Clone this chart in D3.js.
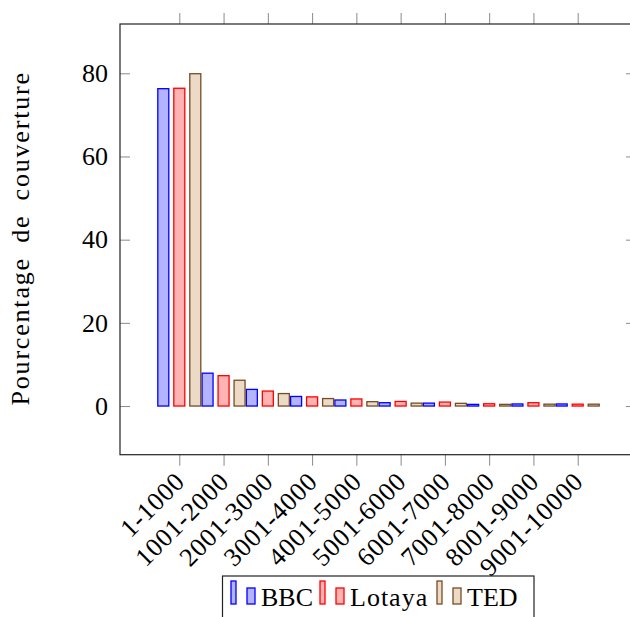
<!DOCTYPE html>
<html>
<head>
<meta charset="utf-8">
<script src="https://cdn.jsdelivr.net/npm/d3@7"></script>
<style>
  html, body { margin: 0; padding: 0; background: #fff; }
  svg { display: block; }
  text { font-family: "Liberation Serif", "DejaVu Serif", serif; fill: #000; }
</style>
</head>
<body>
<svg id="chart" width="630" height="617"></svg>
<script>
const categories = ["1-1000","1001-2000","2001-3000","3001-4000","4001-5000","5001-6000","6001-7000","7001-8000","8001-9000","9001-10000"];
const seriesNames = ["BBC","Lotaya","TED"];
const bbc    = [76.3, 7.9, 4.0, 2.3, 1.45, 0.8, 0.7, 0.4, 0.5, 0.5];
const lotaya = [76.4, 7.3, 3.6, 2.2, 1.7, 1.1, 0.95, 0.55, 0.8, 0.45];
const ted    = [79.9, 6.2, 3.0, 1.8, 1.05, 0.7, 0.65, 0.4, 0.45, 0.45];
const yTicks = [0, 20, 40, 60, 80];
const yLabel = "Pourcentage de couverture";

const seriesValues = [bbc, lotaya, ted];
const strokes = ["#0000ff", "#ff0000", "#734d26"];
const fills   = ["#b3b3ff", "#ffb3b3", "#ecd9c6"];

const svg = d3.select("#chart");
const L = 120, R = 636, T = 24, B = 454.7;

const x = d3.scalePoint().domain(categories).range([179.3, 577.7]);
const shift = d3.scalePoint().domain(seriesNames).range([-16, 16]);
const y = d3.scaleLinear().domain([-11.7, 91.85]).range([B, T]);
const barW = 11;

// bars
seriesNames.forEach((name, si) => {
  svg.append("g").selectAll("rect")
    .data(seriesValues[si].map((v, i) => ({cat: categories[i], v})))
    .join("rect")
    .attr("x", d => x(d.cat) + shift(name) - barW / 2)
    .attr("y", d => y(d.v))
    .attr("width", barW)
    .attr("height", d => y(0) - y(d.v))
    .attr("fill", fills[si])
    .attr("stroke", strokes[si])
    .attr("stroke-width", 1.3);
});

// axes
function styleAxis(g) {
  g.select(".domain").remove();
  g.selectAll(".tick line").attr("stroke", "#8a8a8a").attr("stroke-width", 1);
}
svg.append("g").attr("transform", `translate(${L},0)`)
  .call(d3.axisLeft(y).tickValues(yTicks).tickSize(-10).tickPadding(12).tickFormat(d3.format("d")))
  .call(styleAxis)
  .call(g => g.selectAll("text").attr("font-size", 26).attr("font-family", "Liberation Serif").attr("fill", "#000"));
svg.append("g").attr("transform", `translate(${R},0)`)
  .call(d3.axisRight(y).tickValues(yTicks).tickSize(-10).tickFormat(""))
  .call(styleAxis);
svg.append("g").attr("transform", `translate(0,${B})`)
  .call(d3.axisBottom(x).tickSize(11).tickFormat(""))
  .call(styleAxis);
svg.append("g").attr("transform", `translate(0,${T})`)
  .call(d3.axisTop(x).tickSize(11).tickFormat(""))
  .call(styleAxis);

// frame
svg.append("rect").attr("x", L).attr("y", T).attr("width", R - L).attr("height", B - T)
  .attr("fill", "none").attr("stroke", "#222").attr("stroke-width", 1.2);

// x labels rotated
svg.append("g").selectAll("text").data(categories).join("text")
  .attr("transform", d => `translate(${x(d) + 1},477) rotate(-45)`)
  .attr("text-anchor", "end")
  .attr("dominant-baseline", "central")
  .attr("font-size", 26)
  .attr("letter-spacing", 0.8)
  .text(d => d);

// y label
svg.append("text")
  .attr("transform", `translate(29,${(T + B) / 2 - 1}) rotate(-90)`)
  .attr("text-anchor", "middle")
  .attr("font-size", 26)
  .attr("letter-spacing", 1.8)
  .attr("word-spacing", 6)
  .text(yLabel);

// legend
const lg = svg.append("g");
lg.append("rect").attr("x", 222.5).attr("y", 576).attr("width", 311.5).attr("height", 60)
  .attr("fill", "#fff").attr("stroke", "#222").attr("stroke-width", 1.2);
const legendX = [231, 320, 437];
seriesNames.forEach((name, si) => {
  const x0 = legendX[si];
  lg.append("rect").attr("x", x0).attr("y", 581).attr("width", 5).attr("height", 23)
    .attr("fill", fills[si]).attr("stroke", strokes[si]).attr("stroke-width", 1.3);
  lg.append("rect").attr("x", x0 + 16).attr("y", 588).attr("width", 8).attr("height", 16)
    .attr("fill", fills[si]).attr("stroke", strokes[si]).attr("stroke-width", 1.3);
  lg.append("text").attr("x", x0 + 30).attr("y", 606).attr("font-size", 26)
    .attr("letter-spacing", si === 1 ? 1 : 0).text(name);
});
</script>
</body>
</html>
